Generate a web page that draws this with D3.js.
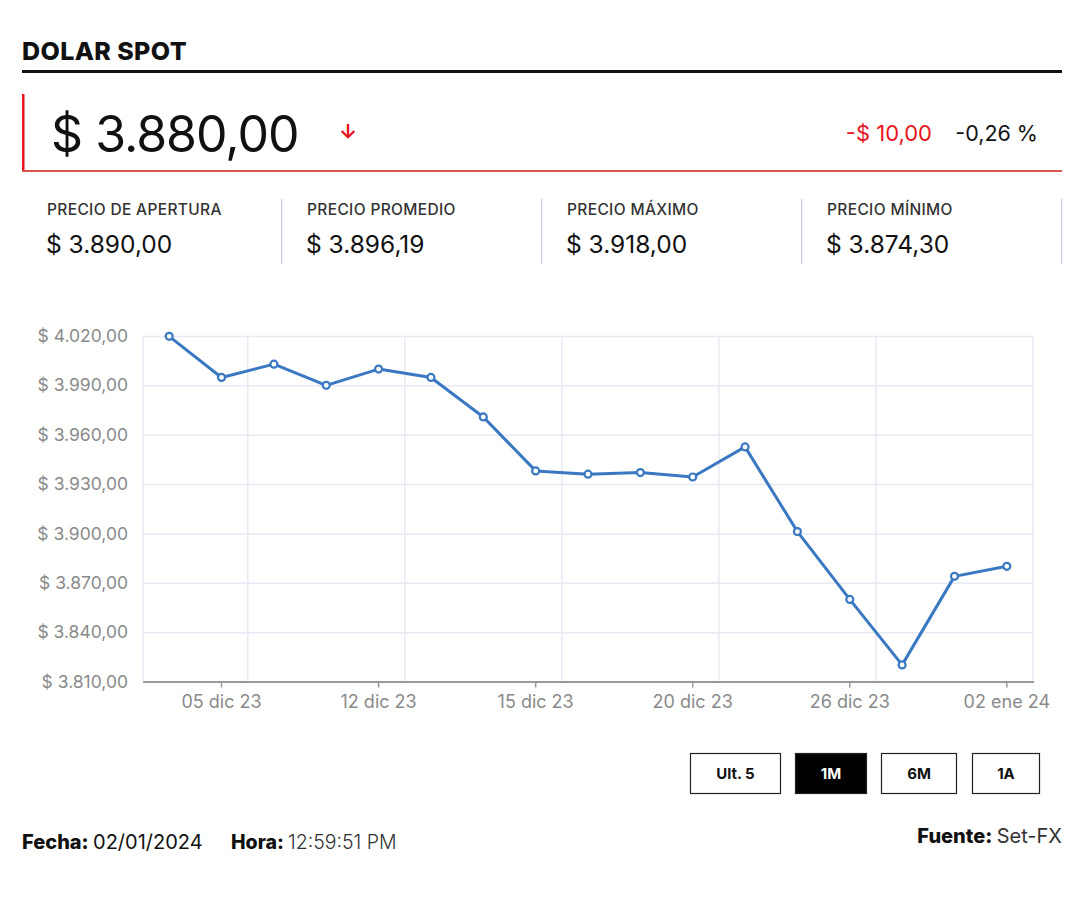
<!DOCTYPE html>
<html><head><meta charset="utf-8">
<script src="https://cdn.jsdelivr.net/npm/d3@7"></script>
<style>
body{margin:0;background:#fff;}
text{font-family:"Inter","Noto Sans",sans-serif;}
</style></head>
<body><svg id="c" width="1080" height="900"></svg>
<script>
const title = "DOLAR SPOT";
const currentPrice = "$ 3.880,00";
const changeAbs = "-$ 10,00";
const changePct = "-0,26 %";
const statLabels = ["PRECIO DE APERTURA","PRECIO PROMEDIO","PRECIO MÁXIMO","PRECIO MÍNIMO"];
const statValues = ["$ 3.890,00","$ 3.896,19","$ 3.918,00","$ 3.874,30"];
const dates = ["01 dic 23","05 dic 23","06 dic 23","07 dic 23","12 dic 23","13 dic 23","14 dic 23","15 dic 23","18 dic 23","19 dic 23","20 dic 23","21 dic 23","22 dic 23","26 dic 23","27 dic 23","28 dic 23","02 ene 24"];
const values = [4019.8,3994.8,4002.9,3990.0,3999.9,3994.8,3970.8,3938.0,3936.0,3937.0,3934.3,3952.6,3901.1,3859.9,3820.1,3873.9,3880.0];
const yTicks = [3810,3840,3870,3900,3930,3960,3990,4020];
const xTickLabels = ["05 dic 23","12 dic 23","15 dic 23","20 dic 23","26 dic 23","02 ene 24"];
const buttons = ["Ult. 5","1M","6M","1A"];
const activeButton = "1M";
const footerDate = "02/01/2024";
const footerTime = "12:59:51 PM";
const footerSource = "Set-FX";

(function(){
const svg = d3.select("#c");

// Header
svg.append("text").attr("x",22).attr("y",60).attr("font-size",25).attr("letter-spacing",0.4).attr("font-weight",800).attr("fill","#111").text(title);
svg.append("rect").attr("x",22).attr("y",70).attr("width",1040).attr("height",3).attr("fill","#111");

// Price box
svg.append("rect").attr("x",22).attr("y",94).attr("width",2.5).attr("height",78).attr("fill","#e8141c");
svg.append("rect").attr("x",22).attr("y",170).attr("width",1040).attr("height",2).attr("fill","#d9534f");
svg.append("text").attr("x",51).attr("y",152).attr("font-size",50).attr("letter-spacing",-1).attr("font-weight",400).attr("fill","#111").text(currentPrice);
svg.append("text").attr("x",348).attr("y",139).attr("font-size",20).attr("text-anchor","middle").attr("font-weight",700).attr("fill","#e8141c").text("↓");
svg.append("text").attr("x",932).attr("y",141).attr("font-size",22).attr("text-anchor","end").attr("fill","#e8141c").text(changeAbs);
svg.append("text").attr("x",1038).attr("y",141).attr("font-size",21.5).attr("text-anchor","end").attr("fill","#111").text(changePct);

// Stats
statLabels.forEach((l,i)=>{
  const x0 = 22 + i*260;
  svg.append("text").attr("x",x0+25).attr("y",215).attr("font-size",15.5).attr("letter-spacing",0.35).attr("font-weight",500).attr("fill","#333").text(l);
  svg.append("text").attr("x",x0+24).attr("y",253).attr("font-size",24.5).attr("fill","#111").text(statValues[i]);
  svg.append("rect").attr("x",x0+259).attr("y",199).attr("width",1.2).attr("height",65).attr("fill","#c9c9dc");
});

// Chart
const pL = 143, pR = 1033, pT = 336, pB = 681.5;
const x = d3.scaleBand().domain(dates).range([pL,pR]);
const y = d3.scaleLinear().domain([3810,4020]).range([pB,pT]);
const cx = d => x(d) + x.bandwidth()/2;

const g = svg.append("g");
// horizontal grid
g.append("g").attr("transform",`translate(${pL},0)`)
 .call(d3.axisLeft(y).tickValues(yTicks).tickSize(-(pR-pL)).tickFormat(""))
 .call(s=>s.select(".domain").remove())
 .call(s=>s.selectAll("line").attr("stroke","#e6eaf3").attr("stroke-width",1.5));
// vertical grid at band boundaries after labelled categories + edges
const vIdx = [0];
xTickLabels.forEach(l=>{ const i = dates.indexOf(l); vIdx.push(i+1); });
const bounds = vIdx.map(i => i < dates.length ? x(dates[i]) : pR);
g.selectAll(".vg").data(bounds).join("line")
 .attr("x1",d=>d).attr("x2",d=>d).attr("y1",pT).attr("y2",pB)
 .attr("stroke","#e6eaf3").attr("stroke-width",1.5);

// y labels
const yAx = g.append("g").attr("transform",`translate(${pL-12},0)`)
 .call(d3.axisLeft(y).tickValues(yTicks).tickSize(0).tickFormat(v=>"$ "+d3.format(",.2f")(v).replace(/,/g,"#").replace(".",",").replace(/#/g,".")));
yAx.select(".domain").remove();
yAx.selectAll("text").attr("font-size",17.5).attr("fill","#8a8a8a").attr("font-family","Inter, sans-serif");

// x axis
const xAx = g.append("g").attr("transform",`translate(0,${pB})`)
 .call(d3.axisBottom(x).tickValues(xTickLabels).tickSize(6).tickPadding(8));
xAx.select(".domain").attr("stroke","#999").attr("stroke-width",2).attr("d",`M${pL},0.5H${pR+1}`);
xAx.selectAll("line").attr("stroke","#999").attr("stroke-width",1.5);
xAx.selectAll("text").attr("font-size",18).attr("fill","#8a8a8a").attr("font-family","Inter, sans-serif");

// line
const line = d3.line().x((d,i)=>cx(dates[i])).y(d=>y(d));
g.append("path").datum(values).attr("d",line).attr("fill","none").attr("stroke","#3a78c2").attr("stroke-width",3).attr("stroke-linejoin","round");
g.selectAll(".pt").data(values).join("circle")
 .attr("cx",(d,i)=>cx(dates[i])).attr("cy",d=>y(d)).attr("r",3.5)
 .attr("fill","#fff").attr("stroke","#3a78c2").attr("stroke-width",2.2);

// buttons
const bx = [690,795,881,972], bw = [90,71,75,67];
buttons.forEach((b,i)=>{
  const act = b===activeButton;
  svg.append("rect").attr("x",bx[i]+0.5).attr("y",753.5).attr("width",bw[i]).attr("height",40)
    .attr("fill",act?"#000":"#fff").attr("stroke","#222").attr("stroke-width",1.2);
  svg.append("text").attr("x",bx[i]+bw[i]/2+0.5).attr("y",779).attr("text-anchor","middle")
    .attr("font-size",15).attr("font-weight",700).attr("fill",act?"#fff":"#111").text(b);
});

// footer
const f1 = svg.append("text").attr("x",22).attr("y",849).attr("font-size",20).attr("fill","#111");
f1.append("tspan").attr("font-weight",800).text("Fecha: ");
f1.append("tspan").attr("font-weight",400).text(footerDate);
const f2 = svg.append("text").attr("x",231).attr("y",849).attr("font-size",19.5).attr("fill","#111");
f2.append("tspan").attr("font-weight",800).text("Hora: ");
f2.append("tspan").attr("font-weight",300).attr("fill","#333").text(footerTime);
const f3 = svg.append("text").attr("x",1062).attr("y",843).attr("font-size",20).attr("text-anchor","end").attr("fill","#111");
f3.append("tspan").attr("font-weight",800).text("Fuente: ");
f3.append("tspan").attr("font-weight",400).attr("fill","#333").text(footerSource);
})();
</script></body></html>
